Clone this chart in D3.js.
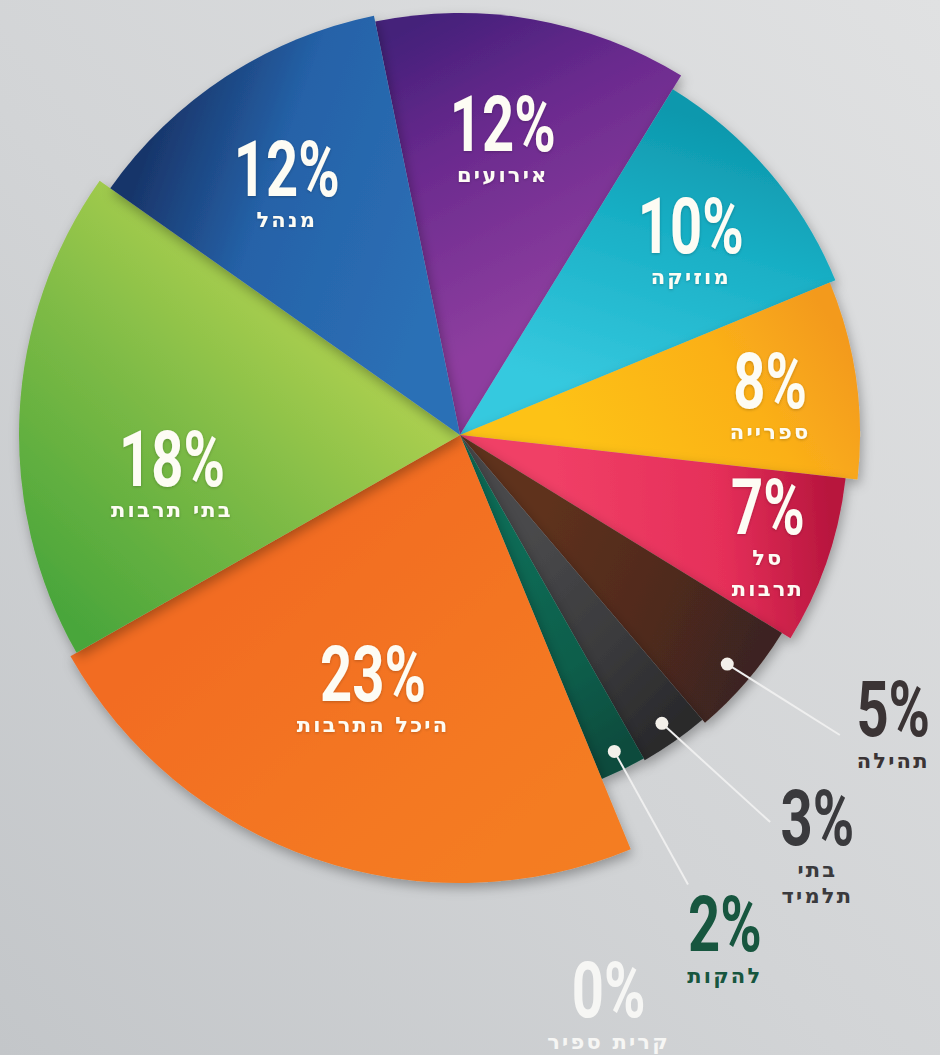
<!DOCTYPE html>
<html><head><meta charset="utf-8">
<script src="https://cdn.jsdelivr.net/npm/d3@7"></script>
<style>html,body{margin:0;padding:0;background:#d3d5d7;overflow:hidden}</style>
</head><body><svg id="c" width="940" height="1055"></svg>
<script>
// ---- data ----
const categories = ["אירועים","מוזיקה","ספרייה","סל תרבות","תהילה","בתי תלמיד","להקות","קרית ספיר","היכל התרבות","בתי תרבות","מנהל"];
const values = [12,10,8,7,5,3,2,0,23,18,12];
const labelLines = [["אירועים"],["מוזיקה"],["ספרייה"],["סל","תרבות"],["תהילה"],["בתי","תלמיד"],["להקות"],["קרית ספיר"],["היכל התרבות"],["בתי תרבות"],["מנהל"]];

// ---- style ----
const W = 940, H = 1055, cx = 460, cy = 435;
const startDeg = -11.6;
const outerR = [422, 406, 400, 388, 378, 374, 372, 372, 448, 441, 428];
// three-stop shading: outer/start-edge corner -> dominant -> inner/end-edge corner
const colA = ["#44207a","#0e98ad","#f39a1f","#b8163e","#3c2420","#2a2a2c","#0a4b3d","#ffffff","#f47d20","#4aa63b","#18356a"];
const colM = ["#6a2a8e","#19afc5","#fbb018","#e52f59","#4f2a1f","#3a3a3c","#0c5e4b","#ffffff","#f47820","#7cba45","#2562a8"];
const colB = ["#8e3e9f","#36c9df","#fdc216","#f03f66","#5f311f","#4a4a4c","#0e6c56","#ffffff","#f26c22","#a9ce4f","#2c70b6"];
const midStop = [0.4,0.4,0.4,0.4,0.4,0.4,0.4,0.4,0.4,0.55,0.4];
// inside label placement (radius, angular shift in degrees); null => outside label
const inLabel = [[315,-2.2],[312,-1.9],[315,-2.1],[316,-6],null,null,null,null,[253,1.1],[289,-7.4],[318,0.2]];
// outside label: [dotR, lineEndR, lineEndDeg, textR, textDeg, color]
const outLabel = {4:[352,484,128.3,512,122.2,"#3b3435"],5:[352,496,141.3,523,136.9,"#3a3a3d"],6:[352,504,153.1,555,151.5,"#17563f"],7:[null,null,null,574,165,"#f6f6f4"]};

const rad = d => d*Math.PI/180;
const polar = (r,a) => [cx + r*Math.sin(a), cy - r*Math.cos(a)];
const polarRel = (r,a) => [r*Math.sin(a), -r*Math.cos(a)];

const svg = d3.select("#c");
const defs = svg.append("defs");

// background
const bg = defs.append("linearGradient").attr("id","bgGrad").attr("x1","1").attr("y1","0").attr("x2","0").attr("y2","1");
bg.append("stop").attr("offset","0").attr("stop-color","#e0e1e2");
bg.append("stop").attr("offset","0.55").attr("stop-color","#d2d4d6");
bg.append("stop").attr("offset","1").attr("stop-color","#c3c6c9");
svg.append("rect").attr("width",W).attr("height",H).attr("fill","url(#bgGrad)");

const f = defs.append("filter").attr("id","pieShadow").attr("x","-20%").attr("y","-20%").attr("width","140%").attr("height","140%");
f.append("feDropShadow").attr("dx",2).attr("dy",5).attr("stdDeviation",6).attr("flood-color","#000").attr("flood-opacity",0.3);
const f2 = defs.append("filter").attr("id","txtShadow").attr("x","-20%").attr("y","-20%").attr("width","140%").attr("height","140%");
f2.append("feDropShadow").attr("dx",0).attr("dy",1).attr("stdDeviation",1.5).attr("flood-color","#000").attr("flood-opacity",0.22);

const pie = d3.pie().sort(null).value(d=>d)
  .startAngle(rad(startDeg)).endAngle(rad(startDeg)+2*Math.PI);
const arcs = pie(values);
const arc = d3.arc().innerRadius(0);

arcs.forEach((d,i)=>{
  const g = defs.append("linearGradient").attr("id","sliceGrad"+i).attr("gradientUnits","userSpaceOnUse");
  const R = outerR[i];
  const p1 = polarRel(R*0.95, d.startAngle), p2 = polarRel(R*0.3, d.endAngle);
  g.attr("x1",p1[0]).attr("y1",p1[1]).attr("x2",p2[0]).attr("y2",p2[1]);
  g.append("stop").attr("offset","0").attr("stop-color",colA[i]);
  g.append("stop").attr("offset",midStop[i]).attr("stop-color",colM[i]);
  g.append("stop").attr("offset","1").attr("stop-color",colB[i]);
});

const pg = svg.append("g").attr("transform",`translate(${cx},${cy})`);
pg.selectAll("path").data(arcs.filter(d=>d.value>0)).join("path")
  .attr("d",d=>arc.outerRadius(outerR[d.index])(d))
  .attr("fill",d=>`url(#sliceGrad${d.index})`)
  .attr("filter","url(#pieShadow)");

// labels
function pctText(parent, x, y, txt, color, size) {
  const g = parent.append("g").attr("transform",`translate(${x},${y}) scale(0.72,1)`);
  g.append("text").attr("text-anchor","middle")
    .attr("font-family","Roboto, 'Liberation Sans', sans-serif").attr("font-weight",700)
    .attr("font-size",size).attr("fill",color).text(txt);
}
function hebText(parent, x, y, lines, color, lh) {
  const t = parent.append("text").attr("text-anchor","middle")
    .attr("font-family","'DejaVu Sans', sans-serif").attr("font-weight","bold")
    .attr("font-size",21).attr("letter-spacing",2.2).attr("fill",color);
  lines.forEach((l,k)=>t.append("tspan").attr("x",x).attr("y",y+k*lh).text(l));
}
const lg = svg.append("g");
arcs.forEach((d,i)=>{
  const m = (d.startAngle+d.endAngle)/2;
  if (inLabel[i]) {
    const [lr, sh] = inLabel[i];
    const [x,y] = polar(lr, m + rad(sh));
    const tg = lg.append("g").attr("filter","url(#txtShadow)");
    pctText(tg, x, y+28, values[i]+"%", "#fdfcf4", 78);
    hebText(tg, x, y+59, labelLines[i], "#fdfcf4", 31);
  }
});
// outside labels
Object.keys(outLabel).forEach(k=>{
  const i = +k, d = arcs[i], m = (d.startAngle+d.endAngle)/2;
  const [dr, lr, ld, tr, td, color] = outLabel[k];
  if (dr) {
    const p0 = polar(dr, m), p1 = polar(lr, rad(ld));
    lg.append("line").attr("x1",p0[0]).attr("y1",p0[1]).attr("x2",p1[0]).attr("y2",p1[1])
      .attr("stroke","#efefef").attr("stroke-width",2);
    lg.append("circle").attr("cx",p0[0]).attr("cy",p0[1]).attr("r",6.5).attr("fill","#f3f0ea");
  }
  const [x,y] = polar(tr, rad(td));
  pctText(lg, x, y+28, values[i]+"%", color, 78);
  hebText(lg, x, y+60, labelLines[i], color, 26);
});
</script>
</body></html>
